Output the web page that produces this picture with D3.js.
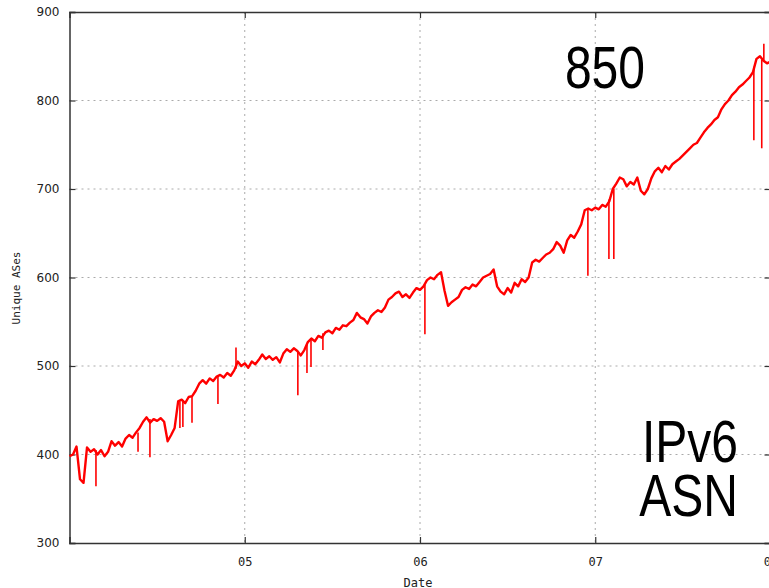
<!DOCTYPE html>
<html>
<head>
<meta charset="utf-8">
<script src="https://cdn.jsdelivr.net/npm/d3@7"></script>
<style>
  body { margin: 0; background: #fff; }
  svg { display: block; }
</style>
</head>
<body>
<svg id="chart"></svg>
<script>
// samples every 0.02 year starting at 2004.0
const startYear = 2004;
const stepYear = 0.02;
const asCounts = [
  398, 400, 409, 372, 368, 408, 403, 406, 400, 405,
  398, 403, 415, 410, 414, 409, 418, 422, 419, 425,
  430, 437, 442, 436, 440, 438, 441, 437, 415, 422,
  430, 460, 462, 458, 465, 466, 472, 480, 484, 480,
  486, 483, 488, 490, 487, 492, 489, 495, 505, 500,
  503, 498, 505, 502, 507, 513, 508, 511, 507, 510,
  504, 514, 519, 516, 520, 517, 512, 518, 527, 531,
  528, 534, 532, 538, 540, 537, 543, 541, 546, 545,
  549, 552, 560, 555, 553, 548, 556, 560, 563, 561,
  566, 575, 578, 582, 584, 578, 581, 577, 583, 588,
  586, 590, 597, 600, 598, 603, 606, 585, 568, 572,
  575, 578, 586, 589, 587, 592, 590, 595, 600, 602,
  604, 609, 590, 584, 581, 588, 583, 594, 590, 598,
  595, 600, 617, 620, 618, 622, 626, 628, 632, 640,
  636, 628, 642, 648, 645, 652, 660, 676, 678, 676,
  679, 677, 682, 680, 686, 700, 706, 713, 711, 703,
  708, 705, 713, 698, 694, 700, 712, 720, 724, 719,
  726, 722, 728, 731, 734, 738, 742, 746, 750, 752,
  758, 764, 769, 773, 778, 781, 790, 796, 800, 806,
  810, 815, 818, 822, 826, 832, 847, 850, 845, 842,
  844
];

// short outages / bursts
const spikeYears = [2004.151, 2004.391, 2004.459, 2004.630, 2004.647, 2004.699, 2004.847, 2004.950,
  2005.303, 2005.355, 2005.378, 2005.446, 2006.028, 2006.958, 2007.078, 2007.106,
  2007.905, 2007.950, 2007.962];
const spikeFrom = [405, 425, 440, 460, 460, 466, 488, 497, 517, 525, 530, 537, 592, 677, 688, 700, 838, 846, 845];
const spikeTo = [364, 403, 397, 430, 431, 436, 457, 521, 467, 492, 499, 518, 536, 602, 621, 621, 755, 746, 864];

const yTicks = [300, 400, 500, 600, 700, 800, 900];
const xTicks = [2005, 2006, 2007, 2008];
const xTickLabels = ["05", "06", "07", "08"];

const W = 769, H = 588;
const margin = { top: 12, left: 69.5 };
const plotW = 701, plotH = 531;

const svg = d3.select("#chart").attr("width", W).attr("height", H);
const g = svg.append("g").attr("transform", `translate(${margin.left},${margin.top})`);

const x = d3.scaleLinear().domain([2004, 2008]).range([0, plotW]);
const y = d3.scaleLinear().domain([300, 900]).range([plotH, 0]);

// grid
g.append("g").selectAll("line")
  .data(yTicks.filter(d => d > 300 && d < 900))
  .join("line")
  .attr("x1", 0).attr("x2", plotW)
  .attr("y1", d => y(d)).attr("y2", d => y(d))
  .attr("stroke", "#aaa").attr("stroke-dasharray", "2,4");

g.append("g").selectAll("line")
  .data(xTicks)
  .join("line")
  .attr("x1", d => x(d)).attr("x2", d => x(d))
  .attr("y1", 0).attr("y2", plotH)
  .attr("stroke", "#aaa").attr("stroke-dasharray", "2,4");

// axes with mirrored inward ticks
const tickLen = 6;
g.append("g").attr("transform", `translate(0,${plotH})`)
  .call(d3.axisBottom(x).tickValues(xTicks).tickSize(-tickLen).tickPadding(14)
    .tickFormat((d, i) => xTickLabels[i]))
  .call(a => a.selectAll("text").attr("font-family", "DejaVu Sans Mono").attr("font-size", 12).attr("fill", "#222"));

g.append("g")
  .call(d3.axisTop(x).tickValues(xTicks).tickSize(-tickLen).tickFormat(""));

g.append("g")
  .call(d3.axisLeft(y).tickValues(yTicks).tickSize(-tickLen).tickPadding(10))
  .call(a => a.selectAll("text").attr("font-family", "DejaVu Sans").attr("font-size", 12).attr("fill", "#222"));

g.append("g").attr("transform", `translate(${plotW},0)`)
  .call(d3.axisRight(y).tickValues(yTicks).tickSize(-tickLen).tickFormat(""));

g.selectAll(".domain").attr("stroke", "#333").attr("stroke-width", 1.5);
g.selectAll(".tick line").attr("stroke", "#333").attr("stroke-width", 1.2);

// data line
const series = asCounts.map((v, i) => ({ t: startYear + i * stepYear, v }));
const line = d3.line().x(d => x(d.t)).y(d => y(d.v));

g.append("path")
  .datum(series)
  .attr("d", line)
  .attr("fill", "none")
  .attr("stroke", "#ff0000")
  .attr("stroke-width", 2.4)
  .attr("stroke-linejoin", "round");

g.append("g").selectAll("line")
  .data(spikeYears)
  .join("line")
  .attr("x1", d => x(d)).attr("x2", d => x(d))
  .attr("y1", (d, i) => y(spikeFrom[i]))
  .attr("y2", (d, i) => y(spikeTo[i]))
  .attr("stroke", "#ff0000")
  .attr("stroke-width", 1.6);

// axis titles
svg.append("text")
  .attr("x", 418).attr("y", 587)
  .attr("text-anchor", "middle")
  .attr("font-family", "DejaVu Sans Mono").attr("font-size", 12).attr("fill", "#222")
  .text("Date");

svg.append("text")
  .attr("transform", "translate(20,288) rotate(-90)")
  .attr("text-anchor", "middle")
  .attr("font-family", "DejaVu Sans Mono").attr("font-size", 11).attr("fill", "#222")
  .text("Unique ASes");

// annotations
const big = svg.append("g").attr("font-family", "Liberation Sans, Arial, sans-serif")
  .attr("font-size", 60).attr("fill", "#000");
big.append("text").attr("transform", "translate(645,88) scale(0.8,1)")
  .attr("text-anchor", "end").text("850");
big.append("text").attr("transform", "translate(738,462) scale(0.8,1)")
  .attr("text-anchor", "end").text("IPv6");
big.append("text").attr("transform", "translate(738,516) scale(0.8,1)")
  .attr("text-anchor", "end").text("ASN");
</script>
</body>
</html>
